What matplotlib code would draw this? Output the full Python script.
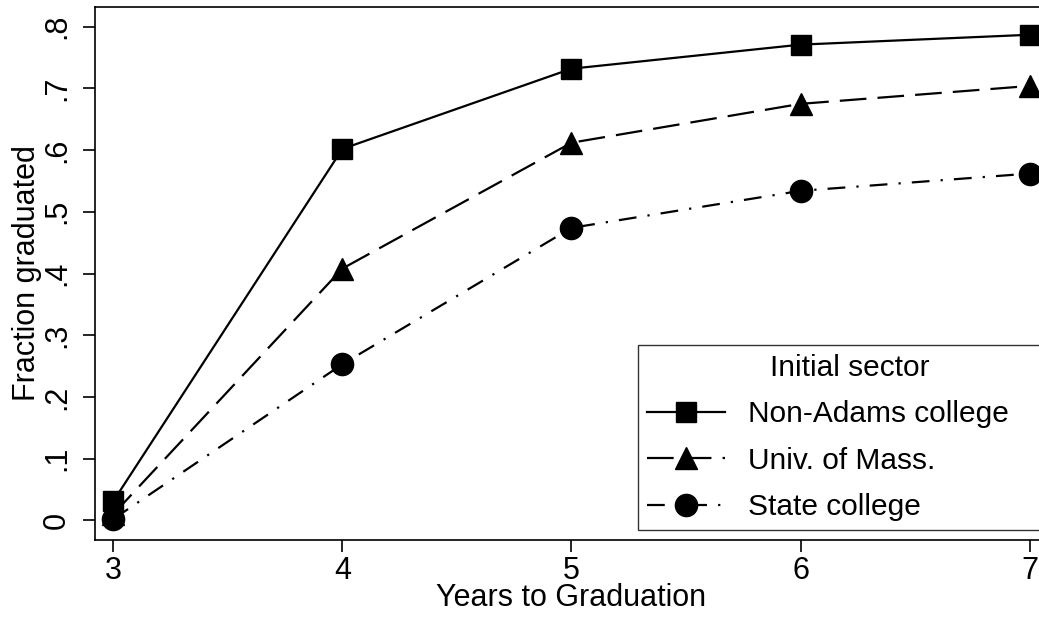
import numpy as np
import matplotlib.pyplot as plt

plt.rcParams['font.family'] = ['Liberation Sans', 'DejaVu Sans']

# 卒業までの年数と卒業率
years = [3, 4, 5, 6, 7]
non_adams = [0.031, 0.602, 0.732, 0.771, 0.787]
umass = [0.010, 0.408, 0.612, 0.675, 0.704]
state = [0.002, 0.253, 0.474, 0.534, 0.562]
yticks = [0, .1, .2, .3, .4, .5, .6, .7, .8]
ytick_labels = ['0', '.1', '.2', '.3', '.4', '.5', '.6', '.7', '.8']

fig = plt.figure(figsize=(10.39, 6.2), dpi=100)
ax = fig.add_axes([95 / 1039, 80 / 620, 953 / 1039, 533 / 620])

ax.plot(years, non_adams, color='black', lw=1.6, marker='s', ms=15, label='Non-Adams college')
ax.plot(years, umass, color='black', lw=1.6, marker='^', ms=16, dashes=(12, 5), label='Univ. of Mass.')
ax.plot(years, state, color='black', lw=1.6, marker='o', ms=16, dashes=(8, 5, 1, 5), label='State college')

ax.set_xlim(2.92, 7.08)
ax.set_ylim(-0.032, 0.832)
ax.set_xticks(years)
ax.set_yticks(yticks)
ax.set_yticklabels(ytick_labels, rotation=90, va='center')
ax.tick_params(labelsize=22, length=8.5, width=1.2)
ax.tick_params(axis='y', pad=8)
ax.tick_params(axis='x', pad=3)
for s in ax.spines.values():
    s.set_linewidth(1.2)

ax.set_xlabel('Years to Graduation', fontsize=22, labelpad=-2)
ax.set_ylabel('Fraction graduated', fontsize=22, labelpad=0)

# 凡例は右端がはみ出す
leg = ax.legend(loc='lower left', bbox_to_anchor=(638 / 1039, 90 / 620, 424 / 1039, 188 / 620),
                bbox_transform=fig.transFigure, mode='expand',
                title='Initial sector', fontsize=21.5, title_fontsize=21.5, frameon=True, fancybox=False,
                edgecolor='black', handlelength=2.6, handletextpad=0.8, borderpad=0.3,
                labelspacing=0.62, borderaxespad=0)
leg.get_frame().set_linewidth(1.0)

fig.savefig('out.png', dpi=100)
